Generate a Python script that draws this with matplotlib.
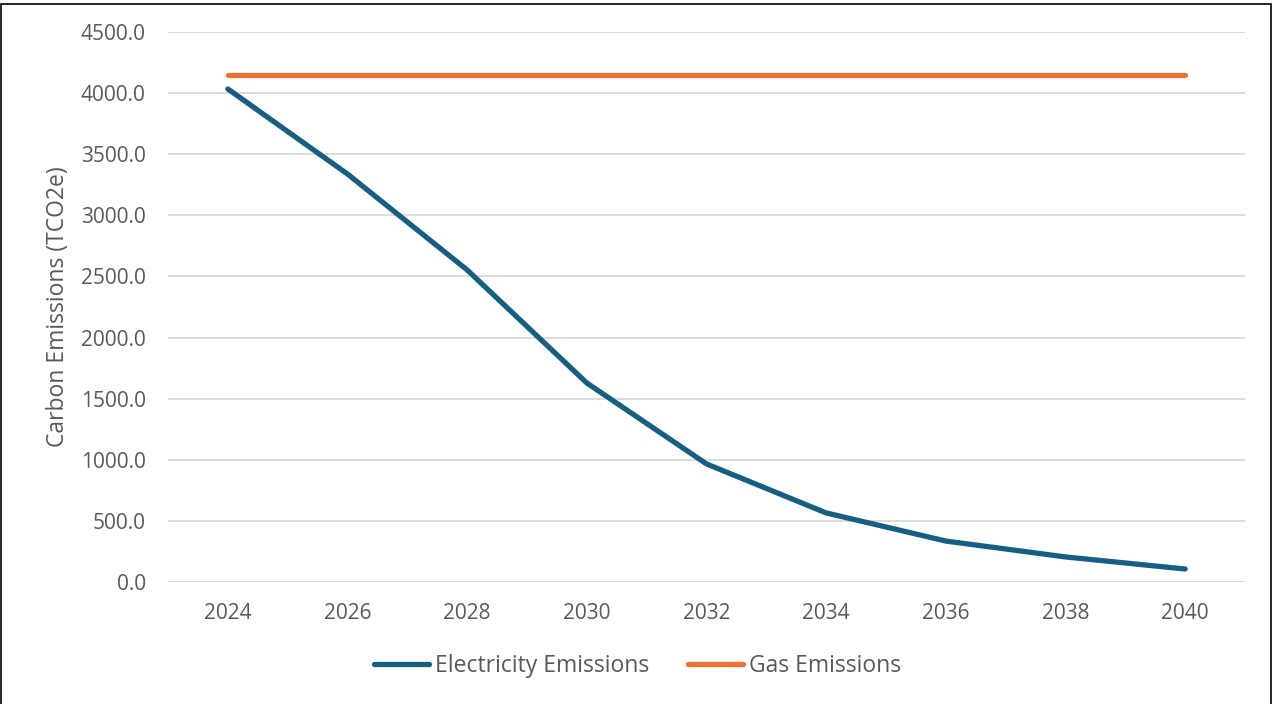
import matplotlib

matplotlib.use("Agg")
import matplotlib.pyplot as plt
from matplotlib.patches import Rectangle

years = [2024, 2026, 2028, 2030, 2032, 2034, 2036, 2038, 2040]
electricity = [4034, 3338, 2553, 1628, 966, 565, 335, 205, 106]
gas = [4149, 4149, 4149, 4149, 4149, 4149, 4149, 4149, 4149]
y_ticks = [0, 500, 1000, 1500, 2000, 2500, 3000, 3500, 4000, 4500]

BLUE = "#156082"
ORANGE = "#E97132"
TEXT = "#595959"
GRID = "#D9D9D9"

plt.rcParams["font.family"] = ["Open Sans", "DejaVu Sans"]

fig = plt.figure(figsize=(12.75, 7.04), dpi=100)
ax = fig.add_axes([0.1318, 0.1733, 0.8447, 0.7812])

ax.plot(years, electricity, color=BLUE, lw=3.8, solid_capstyle="round",
        solid_joinstyle="round", label="Electricity Emissions", zorder=3)
ax.plot(years, gas, color=ORANGE, lw=3.8, solid_capstyle="round",
        label="Gas Emissions", zorder=3)

ax.set_xlim(2023, 2041)
ax.set_ylim(0, 4500)
ax.set_xticks(years)
ax.set_yticks(y_ticks)
ax.set_yticklabels([f"{v:.1f}" for v in y_ticks])
ax.tick_params(length=0, labelsize=15, colors=TEXT)
ax.tick_params(axis="x", pad=15)
ax.tick_params(axis="y", pad=16)
ax.grid(axis="y", color=GRID, lw=1.3)
ax.set_axisbelow(True)
for s in ax.spines.values():
    s.set_visible(False)

ax.set_ylabel("Carbon Emissions (TCO2e)", fontsize=16.5, color=TEXT, labelpad=8)

fig.legend(loc="center", bbox_to_anchor=(0.5, 1 - 666 / 704), ncol=2,
           frameon=False, fontsize=16.5, labelcolor=TEXT, handlelength=2.4,
           handletextpad=0.25, columnspacing=1.7)

# outer chart border
fig.patches.append(Rectangle((0.001, -0.01), 0.996, 1.005, transform=fig.transFigure,
                             fill=False, edgecolor="black", lw=1.2))

fig.savefig("out.png", dpi=100)
